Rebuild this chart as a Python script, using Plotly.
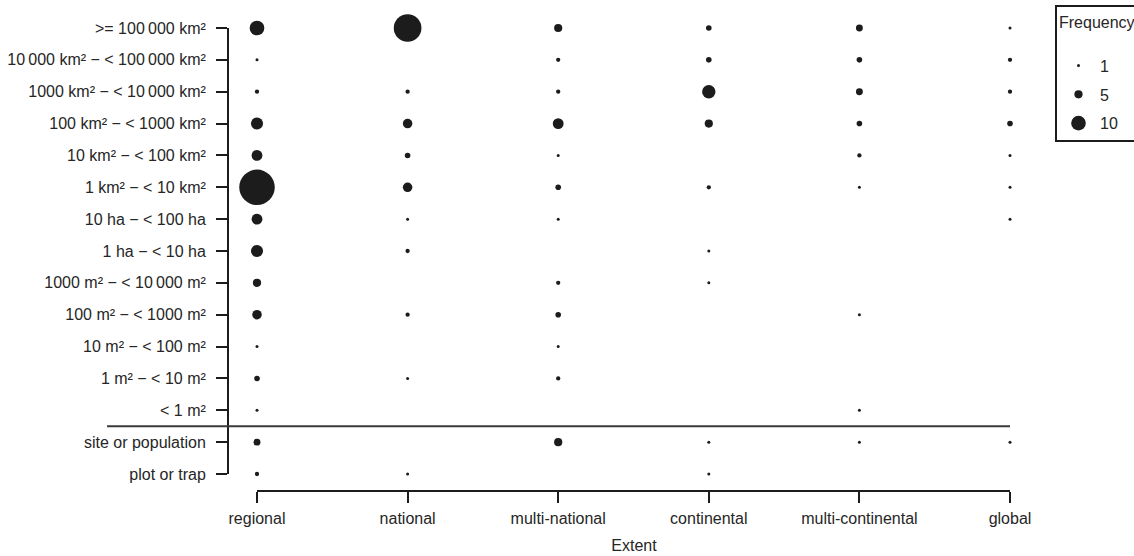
import plotly.graph_objects as go

# ---- data ----
extents = ["regional", "national", "multi-national", "continental", "multi-continental", "global"]

# size classes, top to bottom
size_classes = [
    ">= 100\u2009000 km²",
    "10\u2009000 km² \u2212 < 100\u2009000 km²",
    "1000 km² \u2212 < 10\u2009000 km²",
    "100 km² \u2212 < 1000 km²",
    "10 km² \u2212 < 100 km²",
    "1 km² \u2212 < 10 km²",
    "10 ha \u2212 < 100 ha",
    "1 ha \u2212 < 10 ha",
    "1000 m² \u2212 < 10\u2009000 m²",
    "100 m² \u2212 < 1000 m²",
    "10 m² \u2212 < 100 m²",
    "1 m² \u2212 < 10 m²",
    "< 1 m²",
    "site or population",
    "plot or trap",
]

# frequency per extent, in the order of size_classes (0 = no study)
regional          = [10, 1, 2, 8, 7, 26, 7, 8, 5, 6, 1, 3, 1, 4, 2]
national          = [20, 0, 2, 6, 3, 6, 1, 2, 0, 2, 0, 1, 0, 0, 1]
multi_national    = [5, 2, 2, 7, 1, 3, 1, 0, 2, 3, 1, 2, 0, 5, 0]
continental       = [3, 3, 9, 5, 0, 2, 0, 1, 1, 0, 0, 0, 0, 1, 1]
multi_continental = [4, 3, 4, 3, 2, 1, 0, 0, 0, 1, 0, 0, 1, 1, 0]
global_           = [1, 2, 2, 3, 1, 1, 1, 0, 0, 0, 0, 0, 0, 1, 0]

legend_values = [1, 5, 10]

# ---- styling ----
INK = "#1c1c1c"
TXT = "#262626"
FONT = "Liberation Sans, Arial, sans-serif"
W, H = 1134, 556
L, R, T, B = 228, 94, 10, 65


def dot(n):
    return 3 + 1.3 * (n - 1)


series = [regional, national, multi_national, continental, multi_continental, global_]
xs, ys, ss, ns = [], [], [], []
for ext, vals in zip(extents, series):
    for cls, n in zip(size_classes, vals):
        if n > 0:
            xs.append(ext)
            ys.append(cls)
            ss.append(dot(n))
            ns.append(n)

fig = go.Figure()
fig.add_trace(go.Scatter(
    x=xs, y=ys, mode="markers",
    marker=dict(size=ss, color=INK, opacity=1, line=dict(width=0)),
    customdata=ns, hovertemplate="%{x}<br>%{y}<br>Frequency: %{customdata}<extra></extra>",
    showlegend=False, cliponaxis=False,
))
for v in legend_values:
    fig.add_trace(go.Scatter(
        x=[None], y=[None], mode="markers", name=str(v), legendgroup=str(v),
        marker=dict(size=dot(v), color=INK, opacity=1, line=dict(width=0)),
        showlegend=True,
    ))

# axis ranges so categories land where the reference puts them
pw = W - L - R
ph = H - T - B
xs_px = (1010 - 257) / (len(extents) - 1)
x0 = -(257 - L) / xs_px
x1 = x0 + pw / xs_px
ys_px = (474 - 28) / (len(size_classes) - 1)
y0 = -((H - B) - 474) / ys_px
y1 = y0 + ph / ys_px

y_order = list(reversed(size_classes))

fig.update_layout(
    width=W, height=H,
    margin=dict(l=L, r=R, t=T, b=B, autoexpand=False),
    paper_bgcolor="white", plot_bgcolor="white",
    font=dict(family=FONT, size=16, color=TXT),
    xaxis=dict(
        type="category", categoryorder="array", categoryarray=extents,
        range=[x0, x1], showgrid=False, zeroline=False, showline=False,
        ticks="outside", ticklen=11, tickwidth=2, tickcolor=INK,
        tickfont=dict(size=16, color=TXT), ticklabelstandoff=2,
        title=dict(text="Extent", font=dict(size=16, color=TXT), standoff=13),
        fixedrange=True,
    ),
    yaxis=dict(
        type="category", categoryorder="array", categoryarray=y_order,
        range=[y0, y1], showgrid=False, zeroline=False, showline=False,
        ticks="outside", ticklen=11, tickwidth=2, tickcolor=INK,
        tickfont=dict(size=16, color=TXT), ticklabelstandoff=7,
        fixedrange=True,
    ),
    legend=dict(
        x=(1055 - L) / pw, xanchor="left", y=1 + (T - 5) / ph, yanchor="top",
        bordercolor=INK, borderwidth=2, bgcolor="white",
        title=dict(text="Frequency<br> ", font=dict(size=16, color=TXT)),
        font=dict(size=16, color=TXT), tracegroupgap=5, itemsizing="trace",
        itemwidth=33,
    ),
    shapes=[
        # capped y axis line
        dict(type="line", xref="paper", yref="y", x0=0, x1=0,
             y0=y_order[0], y1=y_order[-1], line=dict(color=INK, width=2)),
        # capped x axis line
        dict(type="line", xref="x", yref="paper", x0=extents[0], x1=extents[-1],
             y0=0, y1=0, line=dict(color=INK, width=2)),
        # separator between area classes and site/plot classes
        dict(type="line", xref="paper", yref="y",
             x0=(107 - L) / pw, x1=(len(extents) - 1 - x0) / (x1 - x0),
             y0=1.5, y1=1.5, line=dict(color="#3a3a3a", width=2)),
    ],
)

fig.write_html(
    "out.html",
    config={"displayModeBar": False},
    post_script="document.body.style.margin='0';document.body.style.overflow='hidden';",
)
